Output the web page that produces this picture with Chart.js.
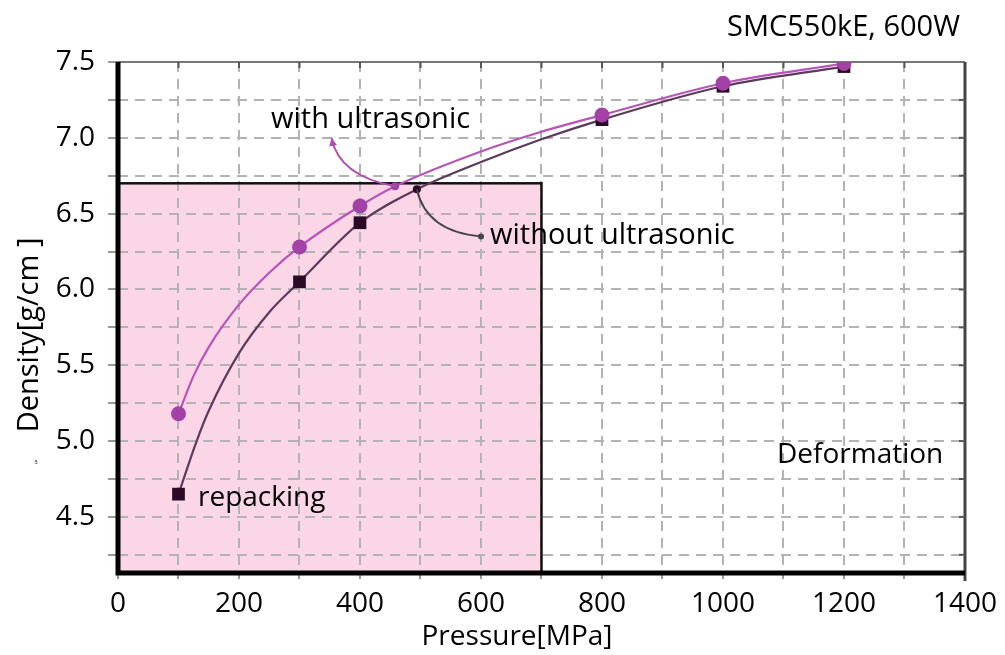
<!DOCTYPE html>
<html>
<head>
<meta charset="utf-8">
<script src="https://cdn.jsdelivr.net/npm/chart.js@4"></script>
<style>
  body { margin: 0; background: #fff; }
  #wrap { width: 1005px; height: 655px; }
</style>
</head>
<body>
<div id="wrap"><canvas id="grafico" width="1005" height="655"></canvas></div>
<script>
// pontos medidos (marcadores)
const pressao = [100, 300, 400, 800, 1000, 1200];
const densidadeCom = [5.18, 6.28, 6.55, 7.15, 7.36, 7.49];
const densidadeSem = [4.65, 6.05, 6.44, 7.12, 7.34, 7.47];
// curvas desenhadas
const curvaPressaoCom = [100, 125, 150, 200, 250, 300, 400, 458, 600, 700, 800, 1000, 1200];
const curvaDensidadeCom = [5.18, 5.43, 5.62, 5.90, 6.11, 6.28, 6.55, 6.68, 6.91, 7.04, 7.15, 7.36, 7.49];
const curvaPressaoSem = [100, 130, 150, 200, 250, 300, 400, 494, 600, 700, 800, 1000, 1200];
const curvaDensidadeSem = [4.65, 5.00, 5.20, 5.58, 5.85, 6.05, 6.44, 6.66, 6.84, 6.99, 7.12, 7.34, 7.47];
// pontinhos onde saem as setas
const pressaoSeta = [458, 494];
const densidadeSeta = [6.68, 6.66];
// regiao "repacking"
const regiaoPressao = [0, 700];
const regiaoDensidade = [4.13, 6.7];
const rotulosX = [0, 200, 400, 600, 800, 1000, 1200, 1400];
const rotulosY = [4.5, 5.0, 5.5, 6.0, 6.5, 7.0, 7.5];

const fonte = '"Open Sans", "Noto Sans", sans-serif';

function pontos(xs, ys) {
    let lista = [];
    for (let i = 0; i < xs.length; i++) {
        lista.push({ x: xs[i], y: ys[i] });
    }
    return lista;
}

const fundoRegiao = {
    id: 'fundoRegiao',
    beforeDraw(chart) {
        const ctx = chart.ctx;
        const x = chart.scales.x, y = chart.scales.y;
        const x0 = x.getPixelForValue(regiaoPressao[0]);
        const x1 = x.getPixelForValue(regiaoPressao[1]);
        const y0 = y.getPixelForValue(regiaoDensidade[1]);
        const y1 = y.getPixelForValue(regiaoDensidade[0]);
        ctx.save();
        ctx.fillStyle = '#fbd6e6';
        ctx.fillRect(x0, y0, x1 - x0, y1 - y0);
        ctx.restore();
    },
    beforeDatasetsDraw(chart) {
        const ctx = chart.ctx;
        const x = chart.scales.x, y = chart.scales.y;
        const a = chart.chartArea;
        const x0 = x.getPixelForValue(regiaoPressao[0]);
        const x1 = x.getPixelForValue(regiaoPressao[1]);
        const y0 = y.getPixelForValue(regiaoDensidade[1]);
        const y1 = y.getPixelForValue(regiaoDensidade[0]);
        ctx.save();
        ctx.strokeStyle = '#111';
        ctx.lineWidth = 2.5;
        ctx.strokeRect(x0, y0, x1 - x0, y1 - y0);

        // moldura
        ctx.strokeStyle = '#777';
        ctx.lineWidth = 2;
        ctx.beginPath();
        ctx.moveTo(a.left, a.top);
        ctx.lineTo(a.right, a.top);
        ctx.stroke();
        ctx.strokeStyle = '#444';
        ctx.lineWidth = 3;
        ctx.beginPath();
        ctx.moveTo(a.right, a.top);
        ctx.lineTo(a.right, a.bottom + 8);
        ctx.stroke();
        ctx.strokeStyle = '#000';
        ctx.lineWidth = 5;
        ctx.beginPath();
        ctx.moveTo(a.left, a.top);
        ctx.lineTo(a.left, a.bottom);
        ctx.lineTo(a.right, a.bottom);
        ctx.stroke();

        // marcas internas em cima e na direita
        ctx.strokeStyle = '#555';
        ctx.lineWidth = 2;
        for (let v = 100; v < 1400; v += 100) {
            const px = x.getPixelForValue(v);
            ctx.beginPath();
            ctx.moveTo(px, a.top);
            ctx.lineTo(px, a.top + 6);
            ctx.stroke();
        }
        for (let v = 4.25; v < 7.5; v += 0.25) {
            const py = y.getPixelForValue(v);
            ctx.beginPath();
            ctx.moveTo(a.right, py);
            ctx.lineTo(a.right - 6, py);
            ctx.stroke();
        }
        ctx.restore();
    }
};

function seta(ctx, p0, c, p1, cor, ponta) {
    ctx.strokeStyle = cor;
    ctx.fillStyle = cor;
    ctx.lineWidth = 2;
    ctx.beginPath();
    ctx.moveTo(p0[0], p0[1]);
    ctx.quadraticCurveTo(c[0], c[1], p1[0], p1[1]);
    ctx.stroke();
    if (ponta) {
        const ang = Math.atan2(p1[1] - c[1], p1[0] - c[0]);
        ctx.beginPath();
        ctx.moveTo(p1[0], p1[1]);
        ctx.lineTo(p1[0] - 9 * Math.cos(ang - 0.45), p1[1] - 9 * Math.sin(ang - 0.45));
        ctx.lineTo(p1[0] - 9 * Math.cos(ang + 0.45), p1[1] - 9 * Math.sin(ang + 0.45));
        ctx.closePath();
        ctx.fill();
    } else {
        ctx.beginPath();
        ctx.arc(p1[0], p1[1], 3, 0, Math.PI * 2);
        ctx.fill();
    }
}

const textos = {
    id: 'textos',
    afterDatasetsDraw(chart) {
        const ctx = chart.ctx;
        const x = chart.scales.x, y = chart.scales.y;
        const P = (vx, vy) => [x.getPixelForValue(vx), y.getPixelForValue(vy)];
        ctx.save();

        seta(ctx, P(pressaoSeta[0], densidadeSeta[0]), P(365, 6.75), P(353, 7.0), '#b04db0', true);
        seta(ctx, P(pressaoSeta[1], densidadeSeta[1]), P(510, 6.38), P(600, 6.35), '#444', false);

        ctx.fillStyle = '#000';
        ctx.textBaseline = 'middle';
        ctx.textAlign = 'left';
        ctx.font = '29px ' + fonte;
        ctx.fillText('with ultrasonic', 271, 120);
        ctx.fillText('without ultrasonic', 490, 236);
        ctx.font = '28px ' + fonte;
        ctx.fillText('repacking', 198, 498);
        ctx.fillText('Deformation', 777, 455);
        ctx.font = '29px ' + fonte;
        ctx.fillText('SMC550kE, 600W', 727, 28);
        ctx.textAlign = 'center';
        ctx.font = '28px ' + fonte;
        ctx.fillText('Pressure[MPa]', 517, 637);
        ctx.font = '6px ' + fonte;
        ctx.fillText('3', 36, 462);

        ctx.translate(30, 335);
        ctx.rotate(-Math.PI / 2);
        ctx.font = '29px ' + fonte;
        ctx.fillText('Density[g/cm ]', 0, 0);
        ctx.restore();
    }
};

const ctx = document.getElementById('grafico');

var dados = {
    datasets: [{
        label: 'with ultrasonic (curva)',
        data: pontos(curvaPressaoCom, curvaDensidadeCom),
        borderColor: '#b754b7',
        borderWidth: 2.2,
        pointRadius: 0,
        cubicInterpolationMode: 'monotone',
        order: 3
    }, {
        label: 'without ultrasonic (curva)',
        data: pontos(curvaPressaoSem, curvaDensidadeSem),
        borderColor: '#5c3a5c',
        borderWidth: 2.2,
        pointRadius: 0,
        cubicInterpolationMode: 'monotone',
        order: 4
    }, {
        label: 'with ultrasonic',
        data: pontos(pressao, densidadeCom),
        showLine: false,
        backgroundColor: '#a242a6',
        pointStyle: 'circle',
        pointRadius: 7.5,
        pointBorderWidth: 0,
        order: 1
    }, {
        label: 'without ultrasonic',
        data: pontos(pressao, densidadeSem),
        showLine: false,
        backgroundColor: '#2a0a24',
        pointStyle: 'rect',
        pointRadius: 9,
        pointBorderWidth: 0,
        order: 2
    }, {
        label: 'setas',
        data: pontos(pressaoSeta, densidadeSeta),
        showLine: false,
        backgroundColor: ['#a242a6', '#2a0a24'],
        pointRadius: 4,
        pointBorderWidth: 0,
        order: 0
    }]
};

var grafico = new Chart(ctx, {
    type: 'line',
    data: dados,
    plugins: [fundoRegiao, textos],
    options: {
        responsive: false,
        animation: false,
        layout: { padding: { left: 0, top: 62, right: 37, bottom: 0 } },
        plugins: {
            legend: { display: false },
            tooltip: { enabled: false }
        },
        scales: {
            x: {
                type: 'linear',
                min: 0,
                max: 1400,
                afterFit(s) { s.height = 82; },
                afterBuildTicks(s) {
                    s.ticks = [];
                    for (let v = 0; v <= 1400; v += 100) s.ticks.push({ value: v });
                },
                border: { display: false, dash: [10, 7] },
                grid: {
                    color: (c) => (c.tick.value === 0 || c.tick.value === 1400) ? 'rgba(0,0,0,0)' : '#b3b3b3',
                    lineWidth: 2,
                    tickColor: '#999',
                    tickLength: 6,
                    tickBorderDash: []
                },
                ticks: {
                    color: '#000',
                    padding: 8,
                    maxRotation: 0,
                    autoSkip: false,
                    font: { family: fonte, size: 28 },
                    callback: (v) => rotulosX.includes(v) ? String(v) : ''
                }
            },
            y: {
                min: regiaoDensidade[0],
                max: 7.5,
                afterFit(s) { s.width = 118; },
                afterBuildTicks(s) {
                    s.ticks = [];
                    for (let v = 4.25; v <= 7.5001; v += 0.25) s.ticks.push({ value: Math.round(v * 100) / 100 });
                },
                border: { display: false, dash: [10, 7] },
                grid: {
                    color: (c) => (c.tick.value === 7.5) ? 'rgba(0,0,0,0)' : '#b3b3b3',
                    lineWidth: 2,
                    tickColor: '#999',
                    tickLength: 10,
                    tickBorderDash: []
                },
                ticks: {
                    color: '#000',
                    padding: 13,
                    autoSkip: false,
                    font: { family: fonte, size: 28 },
                    callback: (v) => rotulosY.includes(v) ? v.toFixed(1) : ''
                }
            }
        }
    }
});
</script>
</body>
</html>
